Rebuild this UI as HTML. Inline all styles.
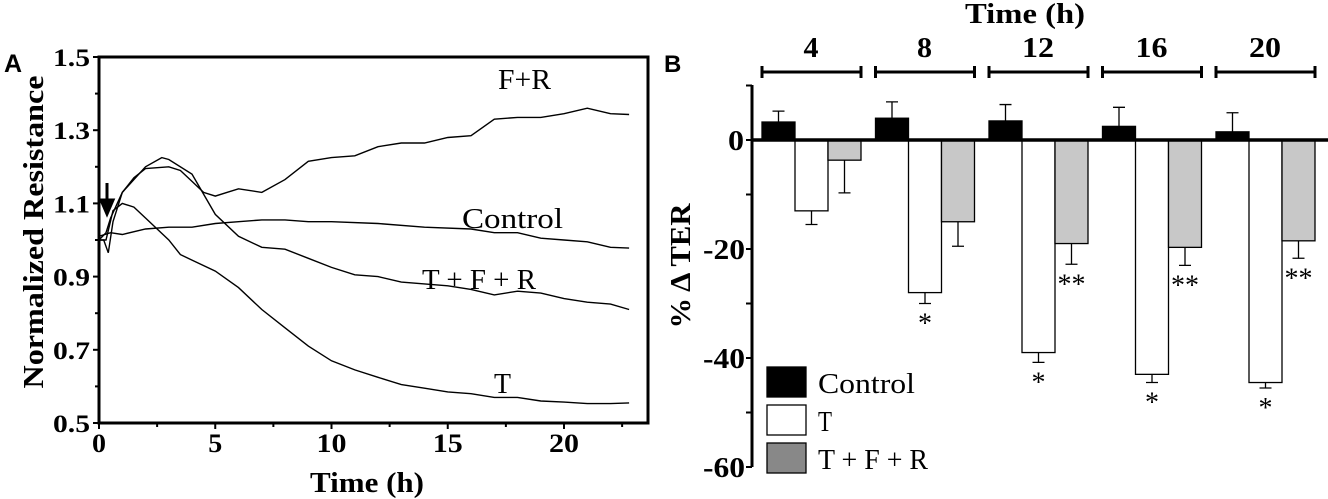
<!DOCTYPE html>
<html><head><meta charset="utf-8"><style>
body{margin:0;background:#fff;}
svg{display:block;font-family:"Liberation Serif",serif;}
.b{font-weight:bold;}
</style></head><body>
<svg width="1328" height="499">
<g id="A"></g>
<g id="B"></g>
</svg>
<script>
// Panel A data
const tFR  = [0,0.3,0.5,1,1.5,2,3,3.5,4,4.5,5,5.5,6,7,8,9,10,11,12,13,14,15,16,17,18,19,20,21,22,22.8];
const vFR  = [1.0,1.02,1.06,1.13,1.17,1.195,1.2,1.19,1.16,1.13,1.12,1.13,1.14,1.13,1.165,1.215,1.225,1.23,1.255,1.265,1.265,1.28,1.285,1.33,1.335,1.335,1.345,1.36,1.345,1.343];
const tT   = [0,0.3,0.6,1,1.5,2,3,3.5,4,5,6,7,8,9,10,11,12,13,14,15,16,17,18,19,20,21,22,22.8];
const vT   = [1.0,1.0,1.08,1.1,1.09,1.06,1.0,0.96,0.945,0.915,0.87,0.81,0.76,0.71,0.67,0.645,0.625,0.605,0.595,0.585,0.58,0.57,0.57,0.56,0.557,0.553,0.553,0.555];
const tTFR = [0,0.2,0.4,0.6,1,2,2.7,3,4,5,6,7,8,9,10,11,12,13,14,15,16,17,18,19,20,21,22,22.8];
const vTFR = [1.0,1.0,0.965,1.05,1.13,1.2,1.225,1.22,1.18,1.07,1.01,0.98,0.975,0.95,0.925,0.905,0.9,0.885,0.88,0.875,0.865,0.85,0.86,0.855,0.84,0.83,0.825,0.81];
const tC   = [0,0.5,1,2,3,4,5,6,7,8,9,10,12,14,16,17,18,19,20,21,22,22.8];
const vC   = [1.01,1.02,1.015,1.03,1.035,1.035,1.045,1.05,1.055,1.055,1.05,1.05,1.045,1.035,1.03,1.02,1.02,1.005,1.0,0.995,0.98,0.978];
const aYTicks = [0.5,0.7,0.9,1.1,1.3,1.5];
const aXTicks = [0,5,10,15,20];
// Panel B data
const groups = ["4","8","12","16","20"];
const ctrlVals = [3.3,4,3.5,2.5,1.5];
const ctrlErr  = [2,3,3,3.5,3.5];
const tVals    = [-13,-28,-39,-43,-44.5];
const tErr     = [2.5,2,1.8,1.5,1];
const tfrVals  = [-3.7,-15,-19,-19.7,-18.5];
const tfrErr   = [6,4.5,3.8,3.3,3.2];
const tStars   = ["","*","*","*","*"];
const tfrStars = ["","","**","**","**"];
const bYTicks  = [0,-20,-40,-60];

const NS="http://www.w3.org/2000/svg";
function mk(p,tag,at,txt){const e=document.createElementNS(NS,tag);for(const k in at)e.setAttribute(k,at[k]);if(txt!==undefined)e.textContent=txt;p.appendChild(e);return e;}
function fit(e,len){e.setAttribute('textLength',len);e.setAttribute('lengthAdjust','spacingAndGlyphs');}
// ---- Panel A
const A=document.getElementById('A');
const ax=t=>99+t*23.25, ay=v=>423-(v-0.5)*366;
let e;
e=mk(A,'rect',{x:99,y:57,width:549,height:366,fill:'none',stroke:'#000','stroke-width':3});

aYTicks.forEach(v=>{e=mk(A,'text',{x:53,y:ay(v)+9,'font-size':25,class:'b'},v.toFixed(1));fit(e,37);

mk(A,'line',{x1:93,x2:99,y1:ay(v),y2:ay(v),stroke:'#000','stroke-width':2});});
for(let v=0.6;v<1.5;v+=0.2){mk(A,'line',{x1:95,x2:99,y1:ay(v),y2:ay(v),stroke:'#000','stroke-width':2});}
aXTicks.forEach(t=>{e=mk(A,'text',{x:ax(t),y:452,'text-anchor':'middle','font-size':26,class:'b'},t);fit(e,t<10?14:30);

mk(A,'line',{x1:ax(t),x2:ax(t),y1:423,y2:429,stroke:'#000','stroke-width':2});
mk(A,'line',{x1:ax(t+2.5),x2:ax(t+2.5),y1:423,y2:427,stroke:'#000','stroke-width':2});});
e=mk(A,'text',{x:367,y:492,'text-anchor':'middle','font-size':28,class:'b'},'Time (h)');fit(e,114);

e=mk(A,'text',{x:0,y:0,'text-anchor':'middle','font-size':29,class:'b',transform:'translate(43,232) rotate(-90)'},'Normalized Resistance');fit(e,313);

e=mk(A,'text',{x:4,y:72,'font-size':25,'font-family':'Liberation Sans, sans-serif',class:'b'},'A');

function line(ts,vs,name){const d=ts.map((t,i)=>(i?'L':'M')+ax(t).toFixed(1)+','+ay(vs[i]).toFixed(1)).join('');
const p=mk(A,'path',{d:d,fill:'none',stroke:'#000','stroke-width':1.4});
}
line(tFR,vFR,'line-f-r');line(tT,vT,'line-t');line(tTFR,vTFR,'line-t-f-r');line(tC,vC,'line-control');
[['F+R',498,89,53,'label-f-r'],['Control',462,228,101,'label-control'],['T + F + R',422,289,114,'label-t-f-r'],['T',494,393,17,'label-t']].forEach(l=>{
e=mk(A,'text',{x:l[1],y:l[2],'font-size':28},l[0]);fit(e,l[3]);
});
e=mk(A,'path',{d:'M107,183V205M101,200L107,214L113,200Z',stroke:'#000','stroke-width':3,fill:'#000'});

// ---- Panel B
const B=document.getElementById('B');
const by=v=>140-v*5.45, gx=i=>762+i*113.5, bw=33;
e=mk(B,'line',{x1:752,x2:752,y1:85,y2:467,stroke:'#000','stroke-width':3});

for(let v=10;v>=-60;v-=10){mk(B,'line',{x1:746,x2:752,y1:by(v),y2:by(v),stroke:'#000','stroke-width':2});}
bYTicks.forEach(v=>{e=mk(B,'text',{x:v?703:728,y:by(v)+10,'font-size':28,class:'b'},v);fit(e,v?42:16);
});
e=mk(B,'text',{x:0,y:0,'text-anchor':'middle','font-size':29,class:'b',transform:'translate(690,266) rotate(-90)'},'% Δ TER');fit(e,125);

e=mk(B,'text',{x:1025,y:23,'text-anchor':'middle','font-size':28,class:'b'},'Time (h)');fit(e,120);

e=mk(B,'text',{x:664,y:72,'font-size':24,'font-family':'Liberation Sans, sans-serif',class:'b'},'B');

function bar(x,v,err,fill,name){
const y0=by(0),y1=by(v);
const r=mk(B,'rect',{x:x,y:Math.min(y0,y1),width:bw,height:Math.abs(y1-y0),fill:fill,stroke:'#000','stroke-width':1.3});

const ye=by(v+(v>=0?err:-err)),cx=x+bw/2;
mk(B,'path',{d:`M${cx},${y1}V${ye}M${cx-6},${ye}H${cx+6}`,stroke:'#000','stroke-width':1.3,fill:'none'});}
groups.forEach((g,i)=>{const x=gx(i);
bar(x,ctrlVals[i],ctrlErr[i],'#000','bar-control-'+g);
bar(x+bw,tVals[i],tErr[i],'#fff','bar-t-'+g);
bar(x+2*bw,tfrVals[i],tfrErr[i],'#c8c8c8','bar-tfr-'+g);
e=mk(B,'path',{d:`M${x},66V78M${x},72H${x+99}M${x+99},66V78`,stroke:'#000','stroke-width':3,fill:'none'});

e=mk(B,'text',{x:x+49,y:57,'text-anchor':'middle','font-size':28,class:'b'},g);fit(e,g.length>1?32:15);

if(tStars[i]){e=mk(B,'text',{x:x+bw*1.5,y:by(tVals[i]-tErr[i])+29,'text-anchor':'middle','font-size':28},tStars[i]);
}
if(tfrStars[i]){e=mk(B,'text',{x:x+bw*2.5,y:by(tfrVals[i]-tfrErr[i])+29,'text-anchor':'middle','font-size':28},tfrStars[i]);
}
});
e=mk(B,'line',{x1:752,x2:1328,y1:by(0),y2:by(0),stroke:'#000','stroke-width':3.5});

[['Control','#000',367,97],['T','#fff',405,14],['T + F + R','#888',443,110]].forEach((l,i)=>{
e=mk(B,'rect',{x:767,y:l[2],width:39,height:30,fill:l[1],stroke:'#000','stroke-width':1.3});

e=mk(B,'text',{x:818,y:l[2]+26,'font-size':29},l[0]);fit(e,l[3]);
});
</script>
</body></html>
